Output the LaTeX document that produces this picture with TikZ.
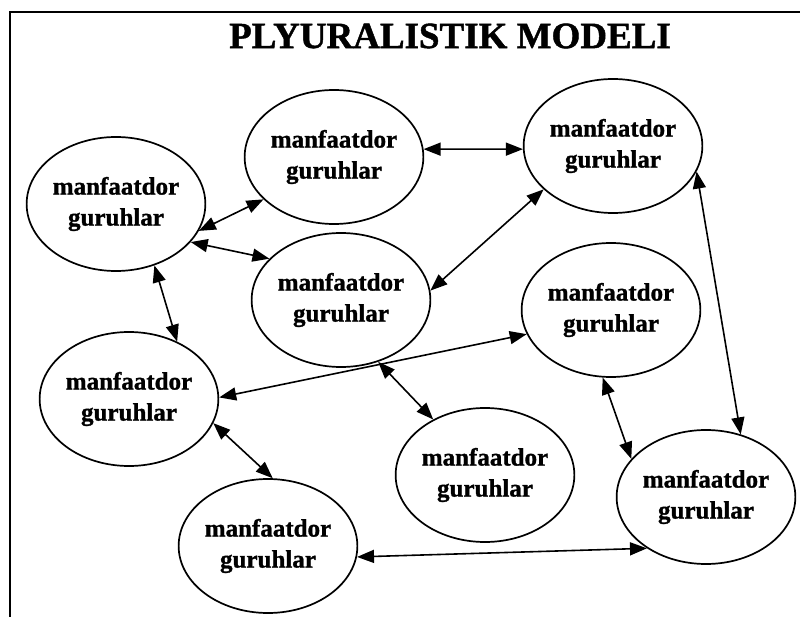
\documentclass[tikz,border=0pt]{standalone}
\usepackage{fontspec}
\setmainfont{Liberation Serif}[BoldFeatures={FakeBold=1.2}]
\usetikzlibrary{shapes.geometric,arrows.meta}
\begin{document}
\begin{tikzpicture}[x=1pt,y=-1pt,
  >={Triangle[length=17pt,width=13pt]},
  grp/.style={ellipse,draw,line width=1.7pt,minimum width=168pt,minimum height=134pt,inner sep=0pt,
    align=center,font=\fontsize{25}{31}\selectfont\bfseries},
  link/.style={line width=1.6pt,<->},
  frame/.style={line width=1.8pt}]
\useasboundingbox (0,0) rectangle (800,617);
\coordinate (tl) at (10,12);
\coordinate (tr) at (800,12);
\coordinate (bl) at (10,617);
\draw[frame] (tr) -- (tl) -- (bl);
\node[font=\fontsize{37}{40}\selectfont\bfseries] (title) at (450,36) {PLYURALISTIK MODELI};
\node[grp] (A) at (116,204) {manfaatdor\\guruhlar};
\node[grp] (B) at (334,157) {manfaatdor\\guruhlar};
\node[grp] (C) at (613,146) {manfaatdor\\guruhlar};
\node[grp] (D) at (341,300) {manfaatdor\\guruhlar};
\node[grp] (E) at (611,310) {manfaatdor\\guruhlar};
\node[grp] (F) at (129,399) {manfaatdor\\guruhlar};
\node[grp] (G) at (485,475) {manfaatdor\\guruhlar};
\node[grp] (H) at (706,497) {manfaatdor\\guruhlar};
\node[grp] (I) at (268,546) {manfaatdor\\guruhlar};
\draw[link] (A.-18) -- (B.211);
\draw[link] (A.-27) -- (D.150);
\draw[link] (B.5) -- (C.182);
\draw[link] (D.6) -- (C.212);
\draw[link] (A.-58) -- (F.50);
\draw[link] (F.1) -- (E.196);
\draw[link] (D.-59) -- (G.133);
\draw[link] (F.-16) -- (I.86);
\draw[link] (E.-97) -- (H.153);
\draw[link] (C.-17) -- (H.61);
\draw[link] (I.-7) -- (H.221);
\end{tikzpicture}
\end{document}
